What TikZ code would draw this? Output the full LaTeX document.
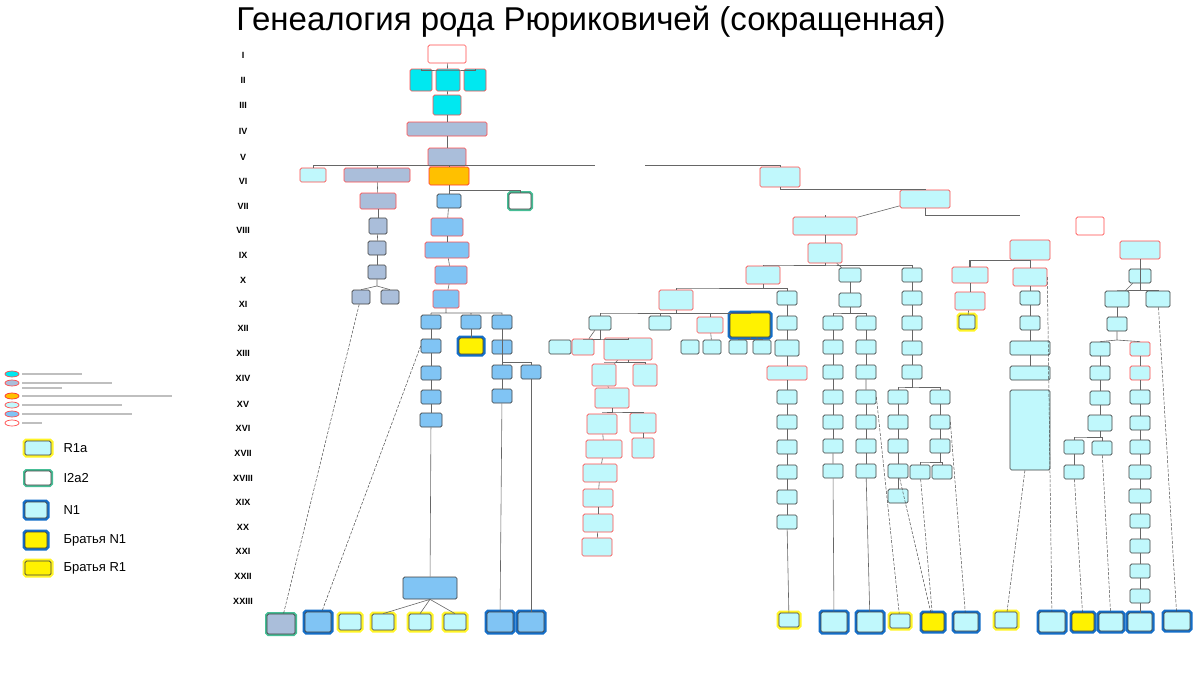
\documentclass[tikz,border=0pt]{standalone}
\usepackage{fontspec}
\setmainfont{Liberation Sans}
\usetikzlibrary{shapes.geometric}
\begin{document}
\begin{tikzpicture}[x=1pt,y=-1pt,
 bx/.style={draw=black!75,rounded corners=1.5pt,line width=0.7pt,inner sep=0pt},
 cy/.style={bx,fill={rgb,255:red,0;green,232;blue,240},draw=red!70},
 gb/.style={bx,fill={rgb,255:red,170;green,190;blue,218},draw=red!70},
 gbk/.style={bx,fill={rgb,255:red,170;green,190;blue,218}},
 orr/.style={bx,fill={rgb,255:red,255;green,192;blue,0},draw=red!80},
 lc/.style={bx,fill={rgb,255:red,192;green,248;blue,252}},
 lcr/.style={bx,fill={rgb,255:red,192;green,248;blue,252},draw=red!70},
 lb/.style={bx,fill={rgb,255:red,128;green,196;blue,244}},
 lbr/.style={bx,fill={rgb,255:red,128;green,196;blue,244},draw=red!70},
 wr/.style={bx,fill=white,draw=red!70},
 yl/.style={bx,fill=yellow},
 yg/.style={preaction={draw=yellow!85,line width=5pt,rounded corners=3pt}},
 bg/.style={preaction={draw={rgb,255:red,20;green,110;blue,200},line width=5pt,rounded corners=3pt}},
 gg/.style={preaction={draw={rgb,255:red,70;green,190;blue,150},line width=4pt,rounded corners=3pt}},
 ln/.style={draw=black!60,line width=0.6pt},
 dl/.style={draw=black!70,line width=0.5pt,dash pattern=on 3pt off 1.5pt},
 rn/.style={font=\fontsize{9}{10}\selectfont\bfseries},
 lg/.style={font=\fontsize{13}{14}\selectfont,anchor=west}]
\useasboundingbox (0,0) rectangle (1200,675);
\newcommand\B[6][]{\node[#6,#1,minimum width=#4pt,minimum height=#5pt] (#2) at (#3) {};}
\node[font=\fontsize{33}{36}\selectfont] (title) at (591,22) {Генеалогия рода Рюриковичей (сокращенная)};
% roman numerals
\foreach \r/\y in {I/55,II/80,III/105,IV/131,V/157,VI/181,VII/206,VIII/230,IX/255,X/280,XI/304,XII/328,XIII/353,XIV/378,XV/404,XVI/428,XVII/453,XVIII/478,XIX/502,XX/527,XXI/551,XXII/576,XXIII/601}
  \node[rn] (r\r) at (243,\y) {\r};
% legend
\foreach \c/\y/\s in {a/374/cy,b/383/gb,c/396/orr,d/405/lcr,e/414/lbr,f/423/wr}{
 \node[\s,ellipse,rounded corners=0pt,minimum width=14pt,minimum height=6pt] (le\c) at (12,\y) {};}
\foreach \y/\l in {374/60,383/90,396/150,405/100,414/110,423/20}{\draw[black!25,line width=1.2pt] (22,\y)--++(\l,0);}
\draw[black!25,line width=1.2pt] (22,388)--++(40,0);
\B[yg]{L1}{38,448}{26}{14}{lc}\node[lg] (t1) at (60,448) {R1a};
\B[gg]{L2}{38,478}{26}{14}{bx,fill=white}\node[lg] (t2) at (60,478) {I2a2};
\B[bg]{L3}{36,510}{22}{16}{lc}\node[lg] (t3) at (60,510) {N1};
\B[bg]{L4}{36,540}{22}{16}{yl}\node[lg] (t4) at (60,540) {Братья N1};
\B[yg]{L5}{38,568}{26}{14}{yl}\node[lg] (t5) at (60,568) {Братья R1};
% ---- boxes
\B{a1}{447,54}{38}{18}{wr}
\B{a2}{421,80}{22}{22}{cy}\B{a3}{448,80}{24}{22}{cy}\B{a4}{475,80}{22}{22}{cy}
\B{a5}{447,105}{28}{20}{cy}
\B{a6}{447,129}{80}{14}{gb}
\B{a7}{447,157}{38}{18}{gb}
\B{b1}{313,175}{26}{14}{lcr}\B{b2}{377,175}{66}{14}{gb}\B{b3}{449,176}{40}{18}{orr}\B{b4}{780,177}{40}{20}{lcr}
\B{c1}{378,201}{36}{16}{gb}\B{c2}{449,201}{24}{14}{lb}\B[gg]{c3}{520,201}{22}{16}{bx,fill=white}\B{c4}{925,199}{50}{18}{lcr}
\B{d1}{378,226}{18}{16}{gbk}\B{d2}{447,227}{32}{18}{lbr}\B{d3}{825,226}{64}{18}{lcr}\B{d4}{1090,226}{28}{18}{wr}
\B{e1}{377,248}{18}{14}{gbk}\B{e2}{447,250}{44}{16}{lbr}\B{e3}{825,253}{34}{20}{lcr}\B{e4}{1030,250}{40}{20}{lcr}\B{e5}{1140,250}{40}{18}{lcr}
\B{f1}{377,272}{18}{14}{gbk}\B{f2}{451,275}{32}{18}{lbr}\B{f3}{763,275}{34}{18}{lcr}\B{f4}{850,275}{22}{14}{lc}\B{f5}{912,275}{20}{14}{lc}\B{f6}{970,275}{36}{16}{lcr}\B{f7}{1030,277}{34}{18}{lcr}\B{f8}{1140,276}{22}{14}{lc}
\B{g1}{361,297}{18}{14}{gbk}\B{g2}{390,297}{18}{14}{gbk}\B{g3}{446,299}{26}{18}{lbr}\B{g4}{676,300}{34}{20}{lcr}\B{g5}{787,298}{20}{14}{lc}\B{g6}{850,300}{22}{14}{lc}\B{g7}{912,298}{20}{14}{lc}\B{g8}{970,301}{30}{18}{lcr}\B{g9}{1030,298}{20}{14}{lc}\B{g10}{1117,299}{24}{16}{lc}\B{g11}{1158,299}{24}{16}{lc}
\B{h1}{431,322}{20}{14}{lb}\B{h2}{471,322}{20}{14}{lb}\B{h3}{502,322}{20}{14}{lb}\B{h4}{600,323}{22}{14}{lc}\B{h5}{660,323}{22}{14}{lc}\B{h6}{710,325}{26}{16}{lcr}\B[bg]{h7}{750,325}{40}{24}{yl}\B{h8}{787,323}{20}{14}{lc}\B{h9}{833,323}{20}{14}{lc}\B{h10}{866,323}{20}{14}{lc}\B{h11}{912,323}{20}{14}{lc}\B[yg]{h12}{967,322}{16}{14}{lc}\B{h13}{1030,323}{20}{14}{lc}\B{h14}{1117,324}{20}{14}{lc}
\B{i1}{431,346}{20}{14}{lb}\B[bg]{i2}{471,346}{24}{16}{yl}\B{i3}{502,347}{20}{14}{lb}\B{i4}{560,347}{22}{14}{lc}\B{i5}{583,347}{22}{16}{lcr}\B{i6}{628,349}{48}{22}{lcr}\B{i7}{690,347}{18}{14}{lc}\B{i8}{712,347}{18}{14}{lc}\B{i9}{738,347}{18}{14}{lc}\B{i10}{762,347}{18}{14}{lc}\B{i11}{787,348}{24}{16}{lc}\B{i12}{833,347}{20}{14}{lc}\B{i13}{866,347}{20}{14}{lc}\B{i14}{912,348}{20}{14}{lc}\B{i15}{1030,348}{40}{14}{lc}\B{i16}{1100,349}{20}{14}{lc}\B{i17}{1140,349}{20}{14}{lcr}
\B{j1}{431,373}{20}{14}{lb}\B{j2}{502,372}{20}{14}{lb}\B{j3}{531,372}{20}{14}{lb}\B{j4}{604,375}{24}{22}{lcr}\B{j5}{645,375}{24}{22}{lcr}\B{j6}{787,373}{40}{14}{lcr}\B{j7}{833,372}{20}{14}{lc}\B{j8}{866,372}{20}{14}{lc}\B{j9}{912,372}{20}{14}{lc}\B{j10}{1030,373}{40}{14}{lc}\B{j11}{1100,373}{20}{14}{lc}\B{j12}{1140,373}{20}{14}{lcr}
\B{k1}{431,397}{20}{14}{lb}\B{k2}{502,396}{20}{14}{lb}\B{k3}{612,398}{34}{20}{lcr}\B{k4}{787,397}{20}{14}{lc}\B{k5}{833,397}{20}{14}{lc}\B{k6}{866,397}{20}{14}{lc}\B{k7}{898,397}{20}{14}{lc}\B{k8}{940,397}{20}{14}{lc}\B{k9}{1100,398}{20}{14}{lc}\B{k10}{1140,397}{20}{14}{lc}
\B{tall}{1030,430}{40}{80}{lc}
\B{l1}{431,420}{22}{14}{lb}\B{l2}{602,424}{30}{20}{lcr}\B{l3}{643,423}{26}{20}{lcr}\B{l4}{787,422}{20}{14}{lc}\B{l5}{833,422}{20}{14}{lc}\B{l6}{866,422}{20}{14}{lc}\B{l7}{898,422}{20}{14}{lc}\B{l8}{940,422}{20}{14}{lc}\B{l9}{1100,423}{24}{16}{lc}\B{l10}{1140,423}{20}{14}{lc}
\B{m1}{604,449}{36}{18}{lcr}\B{m2}{643,448}{22}{20}{lcr}\B{m3}{787,447}{20}{14}{lc}\B{m4}{833,446}{20}{14}{lc}\B{m5}{866,446}{20}{14}{lc}\B{m6}{898,446}{20}{14}{lc}\B{m7}{940,446}{20}{14}{lc}\B{m8}{1074,447}{20}{14}{lc}\B{m9}{1102,448}{20}{14}{lc}\B{m10}{1140,447}{20}{14}{lc}
\B{n1}{600,473}{34}{18}{lcr}\B{n2}{787,472}{20}{14}{lc}\B{n3}{833,471}{20}{14}{lc}\B{n4}{866,471}{20}{14}{lc}\B{n5}{898,471}{20}{14}{lc}\B{n6}{920,472}{20}{14}{lc}\B{n7}{942,472}{20}{14}{lc}\B{n8}{1074,472}{20}{14}{lc}\B{n9}{1140,472}{22}{14}{lc}
\B{o1}{598,498}{30}{18}{lcr}\B{o2}{787,497}{20}{14}{lc}\B{o3}{898,496}{20}{14}{lc}\B{o4}{1140,496}{22}{14}{lc}
\B{p1}{598,523}{30}{18}{lcr}\B{p2}{787,522}{20}{14}{lc}\B{p3}{1140,521}{20}{14}{lc}
\B{q1}{597,547}{30}{18}{lcr}\B{q2}{1140,546}{20}{14}{lc}
\B{r1}{430,588}{54}{22}{lb}\B{r2}{1140,571}{20}{14}{lc}
\B{s1}{1140,596}{20}{14}{lc}
% bottom row
\B[gg]{z1}{281,624}{28}{20}{gbk}\B[bg]{z2}{318,622}{26}{20}{lb}\B[yg]{z3}{350,622}{22}{16}{lc}\B[yg]{z4}{383,622}{22}{16}{lc}\B[yg]{z5}{420,622}{22}{16}{lc}\B[yg]{z6}{455,622}{22}{16}{lc}\B[bg]{z7}{500,622}{26}{20}{lb}\B[bg]{z8}{531,622}{26}{20}{lb}
\B[yg]{z9}{789,620}{20}{14}{lc}\B[bg]{z10}{834,622}{26}{20}{lc}\B[bg]{z11}{870,622}{26}{20}{lc}\B[yg]{z12}{900,621}{20}{14}{lc}\B[bg]{z13}{933,622}{22}{18}{yl}\B[bg]{z14}{966,622}{24}{18}{lc}\B[yg]{z15}{1006,620}{22}{16}{lc}
\B[bg]{z16}{1052,622}{26}{20}{lc}\B[bg]{z17}{1083,622}{22}{18}{yl}\B[bg]{z18}{1111,622}{24}{18}{lc}\B[bg]{z19}{1140,622}{24}{18}{lc}\B[bg]{z20}{1177,621}{26}{18}{lc}
% ---- connectors
\foreach \u/\v in {a1/a3,a3/a5,a5/a6,a6/a7,b3/c2,c2/d2,d2/e2,e2/f2,b2/c1,c1/d1,d1/e1,e1/f1,c4/d3,d3/e3,e3/f4,f4/g6,f5/g7,g7/h11,i14/j9,f6/g8,g8/h12,e4/f7,f7/g9,g9/h13,h13/i15,i15/j10,e5/f8,f8/g10,h1/i1,i1/j1,j1/k1,k1/l1,l1/r1,h2/i2,h3/i3,i3/j2,j2/k2,k2/z7,j3/z8,h4/i5,i6/j4,j4/k3,l2/m1,m1/n1,n1/o1,o1/p1,p1/q1,l3/m2,g5/h8,h8/i11,i11/j6,j6/k4,k4/l4,l4/m3,m3/n2,n2/o2,o2/p2,p2/z9,h9/i12,i12/j7,j7/k5,k5/l5,l5/m4,h10/i13,i13/j8,k6/l6,l6/m5,m5/n4,n4/z11,k7/l7,l7/m6,m6/n5,n5/o3,k8/l8,l8/m7,g10/h14,i16/j11,j11/k9,k9/l9,i17/j12,j12/k10,k10/l10,l10/m10,m10/n9,n9/o4,o4/p3,p3/q2,q2/r2,r2/s1,s1/z19,h11/i14,h6/i8,h7/i10}
  \draw[ln] (\u)--(\v);
\draw[ln] (m4)--(n3) (n3)--(z10) (j8)--(k6);
\draw[ln] (a2.north)|-(447,70) -|(a4.north);
\draw[ln] (a7)--(447,165);
\draw[ln] (b1.north)|-(595,165); \draw[ln] (645,165)-|(b4.north);
\draw[ln] (b2.north)--(377,165) (b3.north)--(449,165);
\draw[ln] (449,190)-|(c3.north);
\draw[ln] (b4)|-(925,189)--(c4);
\draw[ln] (c4)|-(1020,215);
\draw[ln] (825,215)--(d3.north);
\draw[ln] (e3.south)|-(763,265) -|(f5.north) (f3.north)--(763,265);
\draw[ln] (f1)--(377,286)--(g1.north) (377,286)--(g2.north);
\draw[ln] (f2)--(g3) (g3.south)|-(431,313) -|(h3.north) (h2.north)--(471,313) (h1.north)--(431,313);
\draw[ln] (f3.south)|-(676,288) -|(g5.north) (g4.north)--(676,288);
\draw[ln] (g4.south)|-(600,313) -|(h7.north) (h4.north)--(600,313) (h5.north)--(660,313) (h6.north)--(710,313);
\draw[ln] (g6.south)|-(833,313) -|(h10.north) (h9.north)--(833,313);
\draw[ln,line width=1.3pt] (f6.north)|-(e4.south);
\draw[ln] (e5.south)|-(1117,290) -|(g11.north);
\draw[ln] (h14.south)--(1117,340)--(i16.north) (1117,340)--(i17.north);
\draw[ln] (h4.south)|-(583,339) -|(i6.north);
\draw[ln] (h7.south)|-(738,339) -|(i10.north) (i9.north)--(738,339);
\draw[ln] (i6.south)|-(604,362) -|(j5.north);
\draw[ln] (h3)|-(531,362)--(j3.north);
\draw[ln] (j9.south)|-(898,387) -|(k8.north) (k7.north)--(898,387);
\draw[ln] (k3.south)|-(602,412) -|(l3.north);
\draw[ln] (l9.south)|-(1074,437) -|(m9.north) (m8.north)--(1074,437);
\draw[ln] (m7.south)|-(920,462) -|(n7.north) (n6.north)--(920,462);
\draw[ln] (m8)--(n8);
\draw[ln] (r1.south)--(z4.north) (r1.south)--(z5.north) (r1.south)--(z6.north);
% dashed long links
\draw[dl] (g1)--(z1); \draw[dl] (i1.west)--(z2);
\draw[dl] (k6.east)--(z12); \draw[dl] (n5)--(z13); \draw[dl] (n6)--(z13); \draw[dl] (l8.east)--(z14);
\draw[dl] (tall)--(z15); \draw[dl] (f7.east)--(z16); \draw[dl] (n8)--(z17); \draw[dl] (m9)--(z18); \draw[dl] (g11)--(z20);
\end{tikzpicture}
\end{document}
